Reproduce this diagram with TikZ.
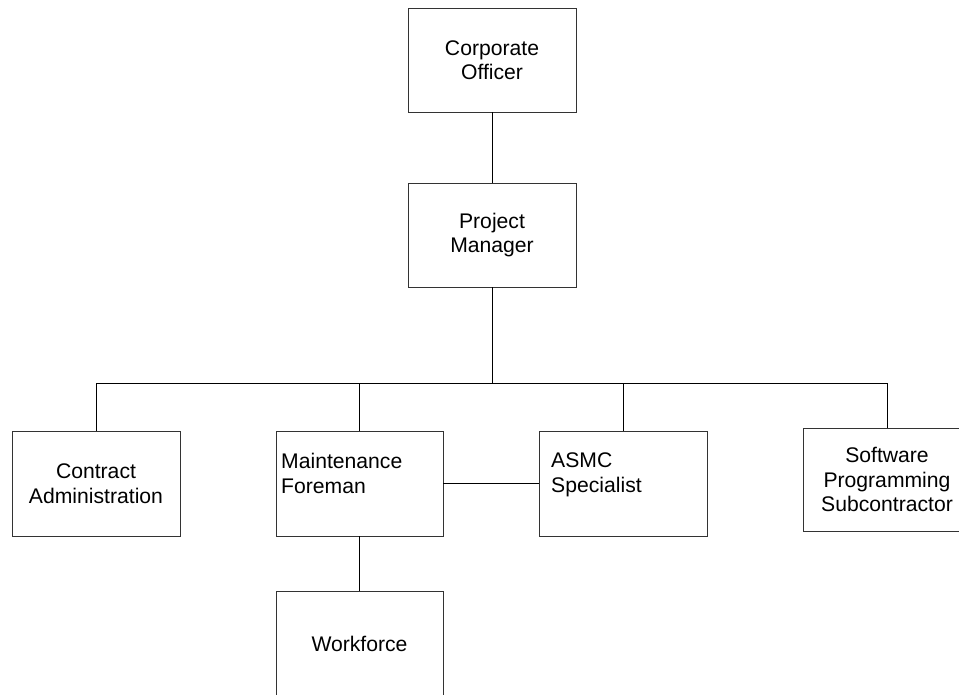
\documentclass[tikz,border=0pt]{standalone}
\usepackage{fontspec}
\setmainfont{Liberation Sans}
\begin{document}
\begin{tikzpicture}[x=1pt,y=-1pt,
  box/.style={draw=black!80, line width=0.8pt, rectangle, inner sep=0pt, align=center,
    font=\fontsize{21.15}{24.5}\selectfont},
  lbl/.style={inner sep=0pt, anchor=north west, align=left,
    font=\fontsize{21.15}{24.5}\selectfont},
  conn/.style={draw=black, line width=0.8pt}]
\useasboundingbox (0,0) rectangle (959,694);
\clip (0,0) rectangle (959,694);
\fill[white] (0,0) rectangle (959,694);
\node[box, minimum width=168pt, minimum height=104pt] (co) at (492,60) {Corporate\\Officer};
\node[box, minimum width=168pt, minimum height=104pt] (pm) at (492,235) {Project\\Manager};
\node[box, minimum width=168pt, minimum height=105pt] (ca) at (96,483.5) {Contract\\Administration};
\node[box, minimum width=167pt, minimum height=105pt] (mf) at (359.5,483.5) {};
\node[lbl] (mft) at (281,453) {Maintenance\\Foreman};
\node[box, minimum width=168pt, minimum height=105pt] (asmc) at (623,483.5) {};
\node[lbl] (asmct) at (551,453) {ASMC\\Specialist};
\node[box, minimum width=168pt, minimum height=103pt] (sw) at (887,479.5) {Software\\Programming\\Subcontractor};
\node[box, minimum width=167pt, minimum height=105pt] (wf) at (359.5,643.5) {Workforce};
\coordinate (bus) at (492,383);
\draw[conn] (co.south) -- (pm.north);
\draw[conn] (pm.south) -- (bus);
\draw[conn] (ca.north) |- (bus);
\draw[conn] (mf.north) |- (bus);
\draw[conn] (asmc.north) |- (bus);
\draw[conn] (sw.north) |- (bus);
\draw[conn] (mf.east) -- (asmc.west);
\draw[conn] (mf.south) -- (wf.north);
\end{tikzpicture}
\end{document}
